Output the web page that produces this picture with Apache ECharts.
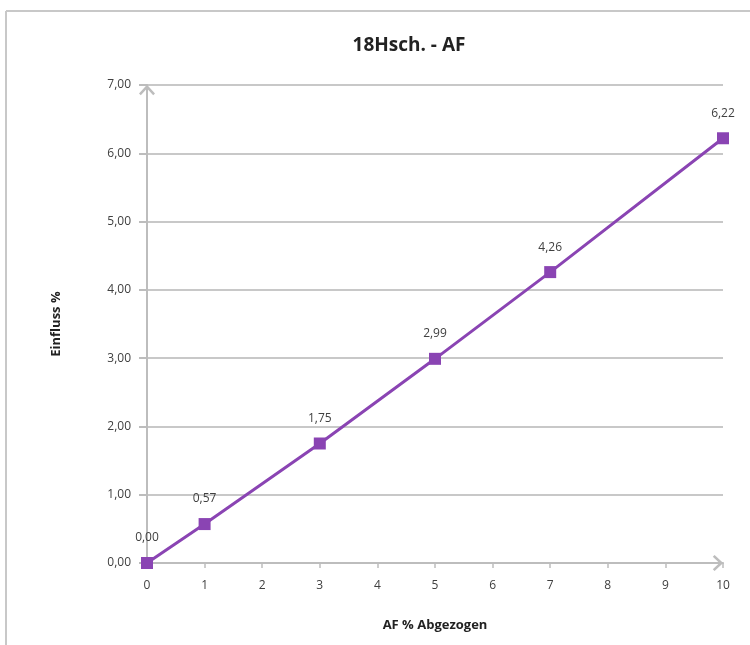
<!DOCTYPE html>
<html>
<head>
<meta charset="utf-8">
<script src="https://cdn.jsdelivr.net/npm/echarts@6/dist/echarts.min.js"></script>
<style>
html,body{margin:0;padding:0;background:#fff;}
#chart{width:750px;height:645px;}
</style>
</head>
<body>
<div id="chart"></div>
<script>
var titleText = "18Hsch. - AF";
var xName = "AF % Abgezogen";
var yName = "Einfluss %";
var xValues = [0, 1, 3, 5, 7, 10];
var yValues = [0.00, 0.57, 1.75, 2.99, 4.26, 6.22];

function fmt(v){ return Number(v).toFixed(2).replace('.', ','); }

var chart = echarts.init(document.getElementById('chart'));
var chevron = 'path://M0,0 L8,8.6 L6.2,10.4 L0,3.8 L-6.2,10.4 L-8,8.6 Z';
var axisColor = '#bdbdbd';
var font = '"Open Sans", "DejaVu Sans", sans-serif';
chart.setOption({
  animation: false,
  backgroundColor: '#fff',
  title: {
    text: titleText,
    left: 404, top: 31, textAlign: 'center',
    textStyle: {fontSize: 19, fontWeight: 'bold', color: '#222', fontFamily: font}
  },
  grid: {left: 147, right: 27, top: 85, bottom: 82, containLabel: false},
  xAxis: {
    type: 'value', min: 0, max: 10, interval: 1,
    name: xName, nameLocation: 'middle', nameGap: 56,
    nameTextStyle: {fontSize: 13, fontWeight: 'bold', color: '#222', fontFamily: font},
    axisLine: {show: true, lineStyle: {color: axisColor, width: 2}, symbol: ['none', chevron], symbolSize: [16, 15], symbolOffset: [0, -5]},
    axisTick: {show: true, inside: false, length: 5, lineStyle: {color: axisColor, width: 1.5}},
    axisLabel: {fontSize: 12, color: '#404040', margin: 17, fontFamily: font},
    splitLine: {show: false}
  },
  yAxis: {
    type: 'value', min: 0, max: 7, interval: 1,
    name: yName, nameLocation: 'middle', nameGap: 84, nameRotate: 90,
    nameTextStyle: {fontSize: 13, fontWeight: 'bold', color: '#222', fontFamily: font},
    axisLine: {show: true, lineStyle: {color: axisColor, width: 2}, symbol: ['none', chevron], symbolSize: [16, 15], symbolOffset: [0, -5]},
    axisTick: {show: true, inside: false, length: 8, lineStyle: {color: axisColor, width: 2}},
    axisLabel: {fontSize: 12, color: '#404040', margin: 16, formatter: fmt, fontFamily: font},
    splitLine: {show: true, lineStyle: {color: '#c8c8c8', width: 2}}
  },
  series: [{
    type: 'line',
    data: xValues.map(function(x, i){ return [x, yValues[i]]; }),
    symbol: 'rect', symbolSize: 12,
    lineStyle: {color: '#8a44b3', width: 3},
    itemStyle: {color: '#8a44b3'},
    label: {show: true, position: 'top', distance: 13, fontSize: 12, color: '#404040', fontFamily: font,
      formatter: function(p){ return fmt(p.value[1]); }}
  }],
  graphic: [
    {type: 'line', shape: {x1: 6, y1: 11, x2: 750, y2: 11}, style: {stroke: '#c8c8c8', lineWidth: 2}, silent: true},
    {type: 'line', shape: {x1: 6, y1: 11, x2: 6, y2: 645}, style: {stroke: '#c8c8c8', lineWidth: 2}, silent: true}
  ]
});
</script>
</body>
</html>
